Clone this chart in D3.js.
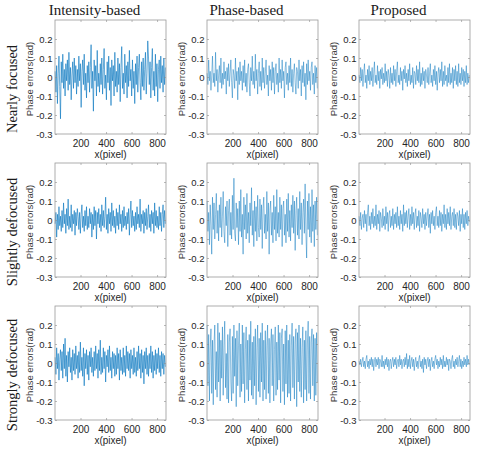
<!DOCTYPE html>
<html><head><meta charset="utf-8">
<script src="https://cdn.jsdelivr.net/npm/d3@7"></script>
<style>html,body{margin:0;padding:0;background:#fff;}</style>
</head><body>
<svg id="c" width="479" height="451"></svg>
<script>
const methods = ["Intensity-based", "Phase-based", "Proposed"];
const conditions = ["Nearly focused", "Slightly defocused", "Strongly defocused"];
const xTicks = [200, 400, 600, 800];
const yTicks = [-0.3, -0.2, -0.1, 0, 0.1, 0.2];
const xLabel = "x(pixel)";
const yLabel = "Phase errors(rad)";
const pixelStep = 6; // sampled every 6 pixels, starting at pixel 1

const intNF = [.03,-.08,.06,-.14,.02,.11,-.05,-.22,.08,-.03,.12,-.06,.04,-.1,.07,
-.02,.09,-.07,.13,-.04,.05,-.12,.01,.08,-.06,.1,-.03,.06,-.09,.04,
-.05,.11,-.02,.07,-.16,.03,.09,-.04,.12,-.07,.02,-.11,.06,-.03,.08,
-.08,.05,.17,-.06,.03,-.18,.09,-.02,.06,-.1,.14,-.05,.02,-.08,.07,
-.04,.1,-.09,.04,.15,-.06,.01,-.12,.08,-.03,.11,-.07,.05,-.15,.09,
-.02,.06,-.1,.13,-.05,.03,-.08,.1,-.04,.07,-.13,.05,.16,-.06,.02,
-.09,.12,-.03,.06,-.11,.08,-.05,.14,-.02,.04,-.1,.09,-.06,.03,-.14,
.07,-.04,.11,-.08,.05,.12,-.03,-.12,.08,-.05,.1,-.07,.04,.13,-.09,
.02,.19,.1,-.04,.08,-.11,.05,.15,-.07,.03,-.1,.12,-.05,.07,-.13,
.04,.09,-.06,.11,-.03,.06,-.08,.1,-.04,.05];
const phNF = [.02,-.04,.09,-.02,.03,-.07,.01,.11,-.03,.02,-.05,.13,-.02,.04,-.08,
.01,.06,-.03,.1,-.06,.02,-.04,.08,-.01,.03,-.09,.05,-.02,.07,-.05,
.02,.09,-.03,-.11,.04,.01,-.06,.1,-.02,.03,-.12,.05,-.04,.08,-.02,
.03,-.07,.06,-.03,.09,-.05,.02,-.08,.04,.07,-.03,-.1,.05,-.02,.11,
-.04,.03,-.06,.12,-.02,.04,-.09,.02,.08,-.05,.03,-.07,.1,-.03,.05,
-.06,.02,.09,-.04,.01,-.1,.06,-.02,.04,-.07,.08,-.03,.05,-.09,.03,
.07,-.04,.02,-.08,.1,-.03,.04,-.06,.09,-.02,.03,-.11,.05,.08,-.04,
.02,-.07,.06,-.03,.1,-.05,.04,-.08,.02,.07,-.03,-.09,.05,.03,-.06,
.09,-.02,.04,-.1,.06,-.03,.08,-.05,.02,-.12,.07,-.04,.09,-.02,.03,
-.07,.05,.08,-.04,.02,-.09,.06,-.03,.05,-.06];
const prNF = [.01,-.03,.05,-.02,.04,-.05,.02,.07,-.03,.01,-.06,.04,-.02,.06,-.04,
.03,-.02,.05,-.05,.02,.08,-.03,.01,-.04,.06,-.02,.03,-.06,.04,-.01,
.05,-.04,.02,-.03,.07,-.02,.03,-.05,.04,.01,-.06,.05,-.03,.02,-.04,
.06,-.02,.04,-.05,.03,.08,-.03,.01,-.04,.05,-.02,.03,-.07,.04,-.01,
.06,-.03,.02,-.05,.04,-.02,.07,-.04,.01,-.03,.05,-.06,.03,.02,-.04,
.06,-.02,.04,-.03,.08,-.05,.02,-.04,.05,-.02,.03,-.06,.04,.01,-.03,
.05,-.04,.02,.07,-.03,.01,-.05,.04,-.02,.06,-.04,.03,-.07,.02,.05,
-.03,.04,-.02,.08,-.05,.03,-.04,.06,-.02,.01,-.05,.05,-.03,.07,-.04,
.02,-.03,.05,-.06,.04,-.02,.06,-.04,.03,-.05,.07,-.03,.02,-.04,.05,
-.02,.04,-.05,.03,-.03,.06,-.04,.02,-.03,.01];
const intSD = [-.02,.04,-.09,.03,-.05,.07,-.03,.02,-.06,.05,-.04,.09,-.02,.03,-.07,
.06,-.03,.11,-.05,.02,-.04,.08,-.06,.03,-.02,.05,-.08,.04,-.03,.06,
.02,-.05,.04,-.07,.03,.08,-.04,.02,-.06,.05,-.03,.07,-.05,.02,-.04,
.06,-.02,.04,-.09,.03,-.05,.07,-.03,.05,-.1,.04,-.02,.06,-.04,.03,
-.06,.08,-.03,.05,-.04,.02,.12,-.05,.03,-.07,.06,-.02,.04,-.06,.09,
-.03,.05,-.04,.02,-.07,.06,-.03,.04,-.05,.08,-.02,.03,-.06,.05,-.04,
.07,-.03,.02,-.05,.04,-.02,.06,-.08,.03,.1,-.04,.05,-.03,.02,-.06,
.04,-.05,.07,-.02,.03,-.04,.11,-.06,.03,-.02,.05,-.07,.04,-.03,.06,
-.05,.02,.08,-.04,.03,-.06,.05,-.02,.04,-.07,.09,-.03,.05,-.04,.02,
-.05,.07,-.03,.04,-.06,.03,.08,-.04,.05,-.02];
const phSD = [.1,-.06,.04,-.13,.08,-.03,-.18,.12,-.05,.09,-.1,.03,.14,-.07,.05,
-.11,.08,-.04,.12,-.09,.02,.15,-.06,-.12,.07,-.03,.1,-.14,.05,.11,
-.08,.04,-.1,.13,-.05,.22,-.07,-.11,.09,-.04,.06,-.13,.1,-.06,.16,
-.09,.03,-.18,.12,-.05,.08,-.1,.14,-.07,.04,-.12,.09,-.03,.17,-.08,
.05,-.14,.1,-.06,.07,-.11,.13,-.04,-.09,.11,-.05,.08,-.15,.06,.12,
-.07,.03,-.1,.15,-.06,.09,-.18,.05,.1,-.08,.04,-.12,.13,-.05,.07,
-.11,.16,-.07,.04,-.09,.12,-.05,.08,-.14,.06,.1,-.08,.03,-.12,.11,
-.06,.14,-.09,.05,-.11,.08,-.04,.13,-.07,.1,-.16,.05,.12,-.08,.06,
-.1,.15,-.05,.09,-.13,.04,.11,-.07,.19,-.06,-.2,.1,-.05,.14,-.09,
.07,-.12,.16,-.06,.08,-.14,.1,-.05,.12,-.08];
const prSD = [.02,-.03,.04,-.05,.01,.03,-.04,.05,-.02,.03,-.06,.04,.08,-.03,.02,
-.05,.04,-.02,.06,-.04,.02,-.03,.08,-.05,.03,-.02,.05,-.06,.04,.01,
-.04,.06,-.03,.02,-.05,.07,-.02,.04,-.06,.03,.05,-.04,.02,-.03,.06,
-.05,.03,-.02,.04,-.04,.07,-.03,.02,-.05,.05,-.02,.03,-.06,.08,-.03,
.04,-.02,.05,-.04,.02,.06,-.05,.03,-.03,.07,-.02,.04,-.05,.03,.06,
-.04,.02,-.03,.05,-.06,.04,.01,-.04,.06,-.02,.03,-.05,.04,-.03,.02,
.06,-.04,.03,-.07,.04,-.02,.05,-.03,.02,-.05,.04,.07,-.03,.02,-.04,
.05,-.03,.04,-.06,.03,-.02,.08,-.04,.03,-.05,.06,-.02,.04,-.03,.07,
-.05,.02,.04,-.03,.06,-.04,.03,-.05,.04,.02,-.03,.05,-.06,.03,-.02,
.06,-.04,.03,-.05,.04,-.02,.05,-.03,.02,-.01];
const intStD = [.03,-.06,.08,-.03,.05,-.09,.02,.07,-.04,.06,-.08,.1,-.03,.13,-.07,
.04,-.1,.06,-.02,.08,-.05,.03,-.09,.07,-.04,.05,-.06,.09,-.03,.04,
-.08,.06,-.05,.11,-.04,.03,-.07,.08,-.12,.05,-.03,.07,-.06,.04,-.09,
.06,-.02,.08,-.05,.03,-.07,.06,-.04,.09,-.03,.05,-.08,.07,-.04,.12,
-.06,.03,-.05,.08,-.03,.06,-.1,.04,-.02,.07,-.05,.09,-.04,.03,-.08,
.06,-.03,.05,-.07,.04,-.06,.08,-.03,.05,-.09,.07,-.04,.03,-.06,.08,
-.05,.04,-.07,.09,-.03,.06,-.04,.05,-.08,.07,-.03,.04,-.06,.08,-.05,
.03,-.07,.06,-.04,.09,-.03,.05,-.08,.07,-.05,.04,-.11,.06,-.03,.08,
-.06,.04,-.07,.05,-.03,.09,-.05,.06,-.08,.04,-.04,.07,-.06,.05,-.03,
.08,-.05,.04,-.07,.06,-.03,.05,-.06,.04,-.02];
const phStD = [.2,-.12,.15,-.2,.08,.18,-.16,.12,-.22,.1,.2,-.14,.06,-.18,.21,
-.1,.16,-.2,.12,-.08,.19,-.17,.09,.22,-.13,.05,-.19,.15,-.21,.11,
.18,-.1,-.2,.14,-.16,.2,-.07,.13,-.23,.17,-.12,.09,.21,-.18,.1,
-.15,.2,-.11,.16,-.21,.07,.19,-.14,.12,-.2,.15,-.09,.22,-.17,.11,
-.19,.14,-.12,.18,-.22,.08,.2,-.15,.13,-.18,.16,-.1,.21,-.2,.12,
-.14,.17,-.19,.09,.2,-.16,.13,-.21,.1,.18,-.12,.15,-.2,.07,.19,
-.17,.11,-.14,.2,-.09,.16,-.21,.13,.18,-.15,.1,-.22,.17,-.11,.2,
-.18,.12,-.16,.15,-.2,.09,.21,-.13,.14,-.19,.11,.18,-.23,.16,-.1,
.2,-.15,.13,-.18,.08,.19,-.21,.12,-.14,.17,-.2,.1,.22,-.16,.14,
-.19,.11,.18,-.12,.15,-.2,.13,-.17,.16,-.1];
const prStD = [.01,-.01,.02,-.02,.01,.03,-.02,.01,-.03,.02,.04,-.02,.01,-.03,.02,
-.01,.03,-.02,.02,-.04,.01,.03,-.02,.02,-.01,.03,-.03,.02,.01,-.02,
.04,-.02,.01,-.03,.02,-.01,.03,-.02,.02,-.04,.01,.02,-.03,.01,.03,
-.02,.02,-.01,.03,-.03,.01,.02,-.02,.04,-.01,.02,-.03,.01,.02,-.02,
.03,-.01,.05,-.03,.02,-.02,.04,-.03,.01,.03,-.02,.02,-.04,.01,.03,
-.02,.01,-.03,.02,.04,-.02,.01,-.03,.02,-.05,.03,-.01,.02,-.03,.01,
.03,-.02,.02,-.04,.01,.03,-.02,.01,-.03,.02,.04,-.01,.02,-.03,.01,
-.02,.03,-.01,.02,-.03,.04,-.02,.01,-.02,.03,-.01,.02,-.04,.02,.01,
-.03,.02,.04,-.02,.01,-.03,.02,-.01,.03,-.02,.01,.04,-.02,.02,-.03,
.01,-.02,.03,-.01,.02,-.02,.04,-.01,.02,-.01];

const grid = [[intNF, phNF, prNF], [intSD, phSD, prSD], [intStD, phStD, prStD]];
const lineWidths = [0.6, 0.45, 0.45];

const svg = d3.select("#c");
const colLeft = [55, 207, 359], plotW = 111;
const rowTop = [20, 163, 306], plotH = 114;
const x = d3.scaleLinear().domain([0, 870]).range([0, plotW]);
const y = d3.scaleLinear().domain([-0.3, 0.3]).range([plotH, 0]);
const fmt = v => v === 0 ? "0" : String(+v.toFixed(1));

methods.forEach((m, c) => {
  svg.append("text").attr("x", colLeft[c] + plotW / 2 - 16).attr("y", 15)
    .attr("text-anchor", "middle").attr("font-family", "Liberation Serif, Times New Roman, serif")
    .attr("font-size", 15).attr("fill", "#1a1a1a").text(m);
});
conditions.forEach((t, r) => {
  svg.append("text").attr("transform", `translate(12,${rowTop[r] + plotH / 2 + 12}) rotate(-90)`)
    .attr("text-anchor", "middle").attr("dominant-baseline", "central")
    .attr("font-family", "Liberation Serif, Times New Roman, serif")
    .attr("font-size", 14.5).attr("fill", "#1a1a1a").text(t);
});

grid.forEach((row, r) => row.forEach((vals, c) => {
  const g = svg.append("g").attr("transform", `translate(${colLeft[c]},${rowTop[r]})`);
  const line = d3.line().x((d, i) => x(1 + i * pixelStep)).y(d => y(d));
  g.append("path").datum(vals).attr("d", line).attr("fill", "none")
    .attr("stroke", "#0072BD").attr("stroke-width", lineWidths[c]).attr("stroke-linejoin", "round");

  const fontSans = "Liberation Sans, Arial, sans-serif";
  const ax = g.append("g").call(d3.axisLeft(y).tickValues(yTicks).tickSize(-2).tickPadding(2.5).tickFormat(fmt));
  const bx = g.append("g").attr("transform", `translate(0,${plotH})`)
    .call(d3.axisBottom(x).tickValues(xTicks).tickSize(-2).tickPadding(5.5).tickFormat(d3.format("d")));
  const tx = g.append("g").call(d3.axisTop(x).tickValues(xTicks).tickSize(-2).tickFormat(""));
  const rx = g.append("g").attr("transform", `translate(${plotW},0)`)
    .call(d3.axisRight(y).tickValues(yTicks).tickSize(-2).tickFormat(""));
  [ax, bx, tx, rx].forEach(a => {
    a.select(".domain").remove();
    a.selectAll("line").attr("stroke", "#8a8a8a").attr("stroke-width", 0.6);
    a.selectAll("text").attr("font-family", fontSans).attr("font-size", 10).attr("fill", "#262626");
  });
  ax.selectAll("text").attr("font-size", 9.5);
  g.append("rect").attr("x", 0).attr("y", 0).attr("width", plotW).attr("height", plotH)
    .attr("fill", "none").attr("stroke", "#9a9a9a").attr("stroke-width", 0.8);

  g.append("text").attr("transform", `translate(-26,${plotH / 2 + 2}) rotate(-90)`)
    .attr("text-anchor", "middle").attr("dominant-baseline", "central")
    .attr("font-family", fontSans).attr("font-size", 9.5).attr("fill", "#3a3a3a").text(yLabel);
  g.append("text").attr("x", plotW / 2).attr("y", plotH + 23.5).attr("text-anchor", "middle")
    .attr("font-family", fontSans).attr("font-size", 10).attr("fill", "#262626").text(xLabel);
}));
</script>
</body></html>
